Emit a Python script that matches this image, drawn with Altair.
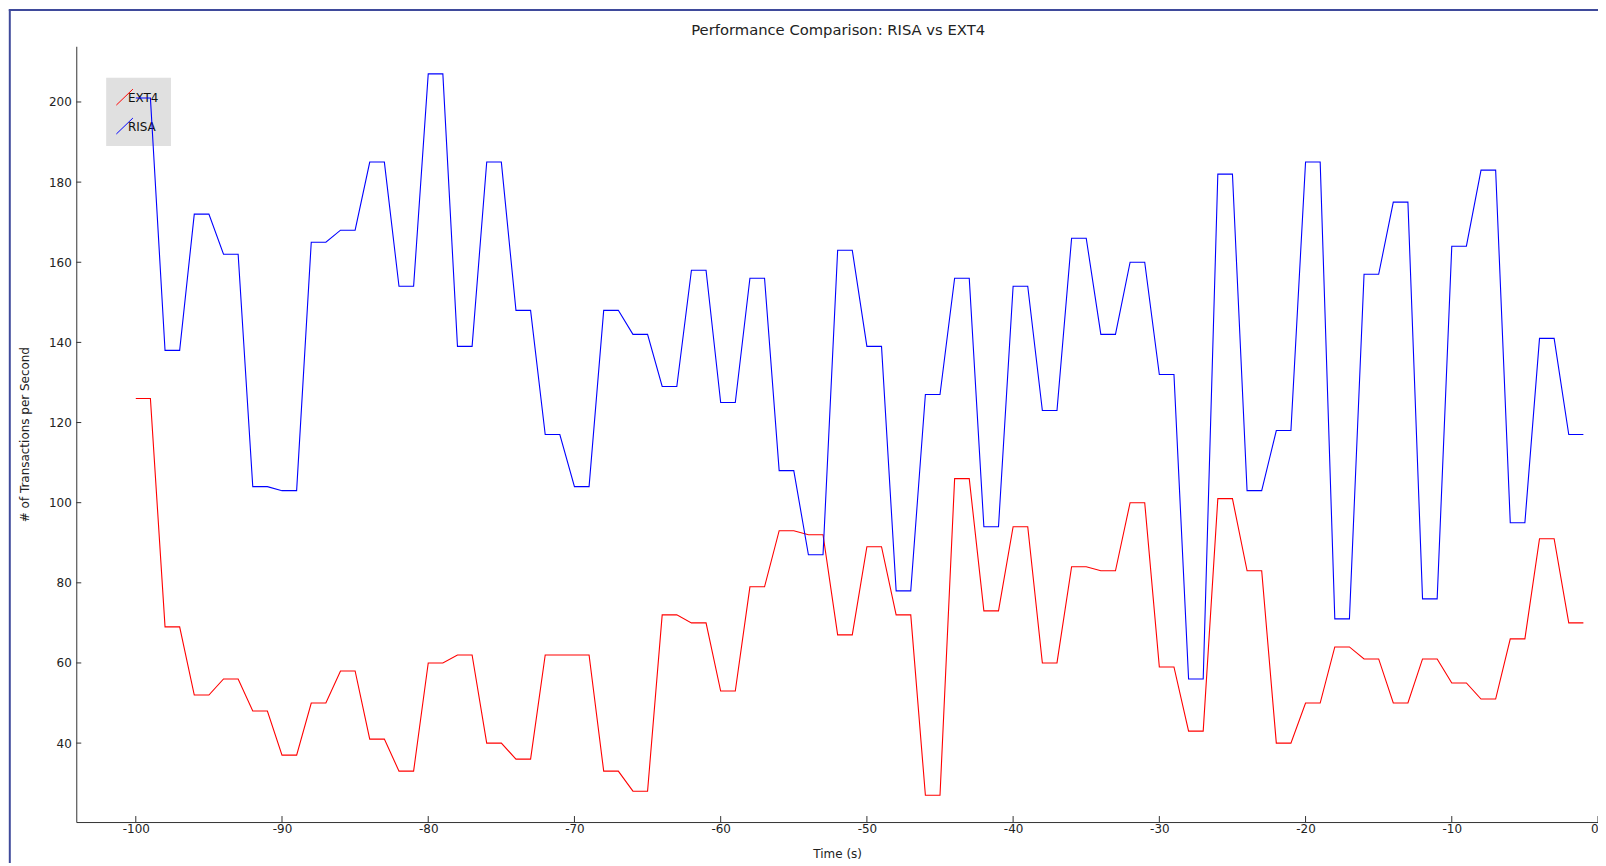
import altair as alt
import pandas as pd

# ---- data (one sample per second) ----
series_names = ["EXT4", "RISA"]
series_colors = ["#ff0000", "#0000ff"]
time_s = list(range(-100, 0))
risa_tps = [201, 201, 138, 138, 172, 172, 162, 162, 104, 104, 103, 103, 165, 165, 168, 168,
            185, 185, 154, 154, 207, 207, 139, 139, 185, 185, 148, 148, 117, 117, 104, 104,
            148, 148, 142, 142, 129, 129, 158, 158, 125, 125, 156, 156, 108, 108, 87, 87,
            163, 163, 139, 139, 78, 78, 127, 127, 156, 156, 94, 94, 154, 154, 123, 123,
            166, 166, 142, 142, 160, 160, 132, 132, 56, 56, 182, 182, 103, 103, 118, 118,
            185, 185, 71, 71, 157, 157, 175, 175, 76, 76, 164, 164, 183, 183, 95, 95,
            141, 141, 117, 117]
ext4_tps = [126, 126, 69, 69, 52, 52, 56, 56, 48, 48, 37, 37, 50, 50, 58, 58,
            41, 41, 33, 33, 60, 60, 62, 62, 40, 40, 36, 36, 62, 62, 62, 62,
            33, 33, 28, 28, 72, 72, 70, 70, 53, 53, 79, 79, 93, 93, 92, 92,
            67, 67, 89, 89, 72, 72, 27, 27, 106, 106, 73, 73, 94, 94, 60, 60,
            84, 84, 83, 83, 100, 100, 59, 59, 43, 43, 101, 101, 83, 83, 40, 40,
            50, 50, 64, 64, 61, 61, 50, 50, 61, 61, 55, 55, 51, 51, 66, 66,
            91, 91, 70, 70]
x_tick_values = [-100, -90, -80, -70, -60, -50, -40, -30, -20, -10, 0]
y_tick_values = [40, 60, 80, 100, 120, 140, 160, 180, 200]
chart_title = "Performance Comparison: RISA vs EXT4"

df = pd.concat([
    pd.DataFrame({"time": time_s, "tps": ext4_tps, "series": "EXT4"}),
    pd.DataFrame({"time": time_s, "tps": risa_tps, "series": "RISA"}),
])

FONT = "DejaVu Sans"
W, H = 1526.7, 778.3
x_scale = alt.Scale(domain=[-104.07, 0], nice=False, zero=False)
y_scale = alt.Scale(domain=[20.3, 213.9], nice=False, zero=False)
color_scale = alt.Scale(domain=series_names, range=series_colors)

one = alt.Data(values=[{}])

# window frame (navy lines at top and left)
frame_left = alt.Chart(one).mark_rule(color="#3f4a9b", strokeWidth=2).encode(
    x=alt.value(-66.7), y=alt.value(-37), y2=alt.value(H + 41))
frame_top = alt.Chart(one).mark_rule(color="#3f4a9b", strokeWidth=2).encode(
    x=alt.value(-67.7), x2=alt.value(W + 10), y=alt.value(-36.5))

# chart title
title_text = alt.Chart(one).mark_text(
    text=chart_title, font=FONT, fontSize=14.8, color="#222", align="center",
    baseline="middle").encode(x=alt.value(W / 2 + 1), y=alt.value(-15.3))

# legend box (drawn beneath the data lines, as in the reference)
legend_box = alt.Chart(one).mark_rect(color="#e0e0e0").encode(
    x=alt.value(30), x2=alt.value(95), y=alt.value(31.5), y2=alt.value(100))
legend_items = []
for name, col, yc in zip(series_names, series_colors, [51.5, 80.5]):
    legend_items.append(alt.Chart(one).mark_rule(color=col, strokeWidth=1).encode(
        x=alt.value(40.2), x2=alt.value(56.8), y=alt.value(yc + 7.5), y2=alt.value(yc - 8.5)))
    legend_items.append(alt.Chart(one).mark_text(
        text=name, font=FONT, fontSize=12, color="#111", align="left", baseline="middle").encode(
        x=alt.value(51.8), y=alt.value(yc + 0.8)))

lines = alt.Chart(df).mark_line(strokeWidth=1.1).encode(
    x=alt.X("time:Q", scale=x_scale, title="Time (s)",
            axis=alt.Axis(values=x_tick_values, ticks=False, tickSize=0, grid=False,
                          labelExpr="'' + datum.value", labelPadding=1,
                          titlePadding=15)),
    y=alt.Y("tps:Q", scale=y_scale, title="# of Transactions per Second",
            axis=alt.Axis(values=y_tick_values, ticks=False, tickSize=0, grid=False,
                          labelPadding=5, titlePadding=17)),
    color=alt.Color("series:N", scale=color_scale, legend=None),
    detail="series:N",
)

# inward-pointing tick marks
ytick_df = pd.DataFrame({"v": y_tick_values})
xtick_df = pd.DataFrame({"v": x_tick_values})
yticks = alt.Chart(ytick_df).mark_rule(color="#333", strokeWidth=1).encode(
    y=alt.Y("v:Q", scale=y_scale), x=alt.value(0), x2=alt.value(5))
xticks = alt.Chart(xtick_df).mark_rule(color="#333", strokeWidth=1).encode(
    x=alt.X("v:Q", scale=x_scale), y=alt.value(H - 6), y2=alt.value(H))

chart = alt.layer(
    frame_left, frame_top, title_text, legend_box, *legend_items, lines, yticks, xticks
).properties(
    width=W, height=H,
    background="white",
    autosize=alt.AutoSizeParams(type="none"),
    padding={"left": 68.5, "top": 37, "right": 0, "bottom": 41},
).configure_view(stroke=None).configure_axis(
    domainColor="#333", domainWidth=1, labelFont=FONT, labelFontSize=12, labelColor="#222",
    titleFont=FONT, titleFontSize=12, titleFontWeight="normal", titleColor="#222",
)

chart.save("out.html", embed_options={"renderer": "svg", "actions": False})
